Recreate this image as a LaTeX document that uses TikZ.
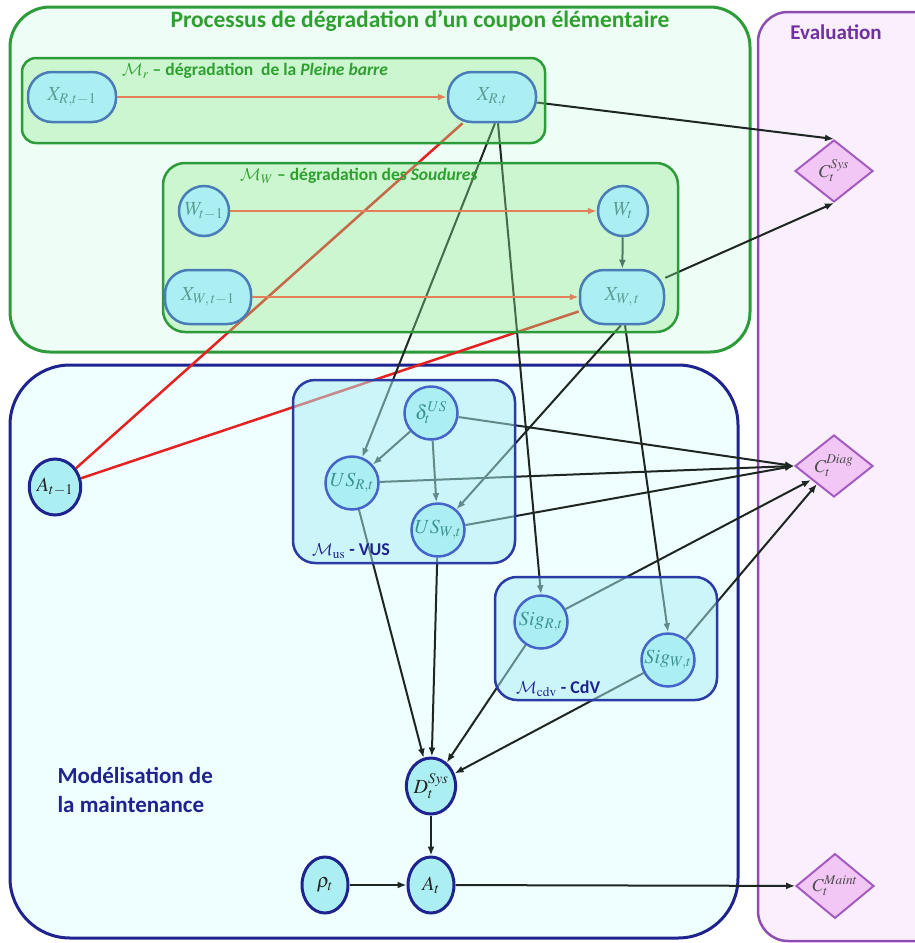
\documentclass[tikz,border=0pt]{standalone}
\usepackage{mathptmx}
\DeclareSymbolFont{cmsyfont}{OMS}{cmsy}{m}{n}
\DeclareSymbolFontAlphabet{\mathcal}{cmsyfont}
\usepackage{fontspec}
\setmainfont{Carlito}
\usetikzlibrary{shapes.geometric,arrows.meta}
\pgfdeclarelayer{bg}\pgfdeclarelayer{edges}\pgfdeclarelayer{over}
\pgfsetlayers{bg,edges,over,main}
\definecolor{gline}{HTML}{2E9B3A}
\definecolor{gtext}{HTML}{2FA02F}
\definecolor{gbg}{HTML}{EEFDF5}
\definecolor{gin}{HTML}{8FEA8F}
\definecolor{ebg}{HTML}{F9EFFD}
\definecolor{eline}{HTML}{8E4DB0}
\definecolor{etext}{HTML}{7030A0}
\definecolor{mbg}{HTML}{EFFEFE}
\definecolor{mline}{HTML}{1F238F}
\definecolor{vfill}{HTML}{A8EEF3}
\definecolor{vline}{HTML}{2B3BA5}
\definecolor{nfill}{HTML}{ABEFF3}
\definecolor{nline}{HTML}{4A7DB8}
\definecolor{ntext}{HTML}{5F9E96}
\definecolor{vnline}{HTML}{4565C8}
\definecolor{vntext}{HTML}{3C9490}
\definecolor{dfill}{HTML}{F2C6F5}
\definecolor{dline}{HTML}{A55CC0}
\definecolor{salm}{HTML}{E2805C}
\definecolor{redl}{HTML}{E52222}
\definecolor{blk}{HTML}{1E2622}
\definecolor{gedge}{HTML}{4E7A6A}
\begin{document}
\begin{tikzpicture}[x=1pt,y=-1pt,
  >={Latex[length=9,width=7]},
  nodefont/.style={font=\fontsize{20}{24}\selectfont},
  stad/.style={nodefont,draw=nline,line width=2.5,fill=nfill,text=ntext,rounded corners=24,minimum width=88,minimum height=50,inner sep=0},
  circ/.style={nodefont,draw=nline,line width=2.5,fill=nfill,text=ntext,circle,minimum size=50,inner sep=0},
  vcirc/.style={nodefont,draw=vnline,line width=2.5,fill=nfill,text=vntext,circle,minimum size=53,inner sep=0},
  mell/.style={nodefont,draw=mline,line width=3,fill=nfill,text=black!85,ellipse,minimum width=46,minimum height=56,inner sep=0},
  diam/.style={font=\fontsize{18}{22}\selectfont,draw=dline,line width=2,fill=dfill,text=black!70,diamond,minimum width=78,minimum height=62,inner sep=0},
  bedge/.style={->,draw=blk,line width=2},
  sedge/.style={->,draw=salm,line width=2},
  redge/.style={draw=redl,line width=2.5},
  glabel/.style={text=gtext,font=\bfseries\fontsize{17.5}{20}\selectfont,anchor=west,inner sep=0},
  vlabel/.style={text=mline,font=\bfseries\fontsize{18}{21}\selectfont,anchor=west,inner sep=0}]
\useasboundingbox (0,0) rectangle (914,943);
% nodes
\node[stad] (XRm) at (72,97) {$X_{R,t-1}$};
\node[stad] (XR) at (492,97) {$X_{R,t}$};
\node[circ] (Wm) at (204,211) {$W_{t-1}$};
\node[circ] (W) at (623,211) {$W_{t}$};
\node[stad,minimum width=86,minimum height=54] (XWm) at (208,297) {$X_{W,\,t-1}$};
\node[stad,minimum width=84,minimum height=54] (XW) at (622,297) {$X_{W,\,t}$};
\node[vcirc] (dl) at (431,413) {$\delta_t^{US}$};
\node[vcirc] (USR) at (352,483) {$US_{R,t}$};
\node[vcirc] (USW) at (438,530) {$US_{W,t}$};
\node[vcirc] (SR) at (541,622) {$Sig_{R,t}$};
\node[vcirc] (SW) at (668,660) {$Sig_{W,t}$};
\node[mell] (Am) at (55,487) {$A_{t-1}$};
\node[mell] (D) at (431,786) {$D_t^{Sys}$};
\node[mell] (rho) at (325,885) {$\rho_t$};
\node[mell] (A) at (431,885) {$A_t$};
\node[diam] (CS) at (834,171) {$C_t^{Sys}$};
\node[diam] (CD) at (834,466) {$C_t^{Diag}$};
\node[diam] (CM) at (835,886) {$C_t^{Maint}$};
% background boxes
\begin{pgfonlayer}{bg}
\draw[gline,line width=3,fill=gbg,rounded corners=40] (10,7) rectangle (750,352);
\draw[mline,line width=3,fill=mbg,rounded corners=60] (10,365) rectangle (738,938);
\draw[eline,line width=2.5,fill=ebg,rounded corners=30] (758,12) rectangle (945,941);
\end{pgfonlayer}
% overlay boxes
\begin{pgfonlayer}{over}
\fill[gin,opacity=0.36,rounded corners=14] (22,58) rectangle (545,143);
\draw[gline,line width=2.5,rounded corners=14] (22,58) rectangle (545,143);
\fill[gin,opacity=0.36,rounded corners=22] (163,163) rectangle (678,332);
\draw[gline,line width=2.5,rounded corners=22] (163,163) rectangle (678,332);
\fill[vfill,opacity=0.5,rounded corners=22] (293,380) rectangle (515,563);
\draw[vline,line width=2.5,rounded corners=22] (293,380) rectangle (515,563);
\fill[vfill,opacity=0.5,rounded corners=22] (495,577) rectangle (717,700);
\draw[vline,line width=2.5,rounded corners=22] (495,577) rectangle (717,700);
\end{pgfonlayer}
% labels
\node[text=gtext,font=\bfseries\fontsize{23.5}{27}\selectfont] (title) at (420,21) {Processus de dégradation d’un coupon élémentaire};
\node[glabel] (lr) at (122,71) {$\mathcal{M}_r$ – dégradation\ \ de la \textit{Pleine barre}};
\node[glabel] (lw) at (240,176) {$\mathcal{M}_W$ – dégradation des \textit{Soudures}};
\node[text=etext,font=\bfseries\fontsize{21}{25}\selectfont] (ev) at (836,32) {Evaluation};
\node[text=mline,font=\bfseries\fontsize{23}{29}\selectfont,align=left,anchor=west] (mm) at (54,790) {Modélisation de\\la maintenance};
\node[vlabel] (lvus) at (312,551) {$\mathcal{M}_{\mathrm{us}}$ - VUS};
\node[vlabel] (lcdv) at (516,689) {$\mathcal{M}_{\mathrm{cdv}}$ - CdV};
% edges under overlay
\begin{pgfonlayer}{edges}
\draw[redge] (Am) -- (XR);
\draw[redge] (Am) -- (XW);
\draw[bedge] (XR) -- (CS.north);
\draw[bedge] (XW) -- (CS.south);
\draw[bedge] ([xshift=3]XR.south) -- (USR);
\draw[bedge] ([xshift=6]XR.south) -- (SR.north);
\draw[bedge] ([xshift=-1]XW.south) -- (USW);
\draw[bedge] ([xshift=3]XW.south) -- (SW.north);
\draw[bedge] (dl) -- (USR);
\draw[bedge] (dl) -- (USW);
\draw[bedge] (dl) -- (CD.west);
\draw[bedge] (USR) -- (CD.west);
\draw[bedge] (USW) -- (CD.west);
\draw[bedge] (SR) -- ([shift={(-3,-2)}]CD.south west);
\draw[bedge] (SW) -- ([shift={(3,2)}]CD.south west);
\draw[bedge] (USR) -- (D);
\draw[bedge] (USW) -- (D);
\draw[bedge] (SR) -- (D);
\draw[bedge] (SW) -- (D);
\draw[bedge] (D) -- (A);
\draw[bedge] (rho) -- (A);
\draw[bedge] (A) -- (CM);
\end{pgfonlayer}
% edges above overlay
\draw[sedge] (XRm) -- (XR);
\draw[sedge] (Wm) -- (W);
\draw[sedge] (XWm) -- (XW);
\draw[->,draw=gedge,line width=2] (W) -- (XW);
\end{tikzpicture}
\end{document}
